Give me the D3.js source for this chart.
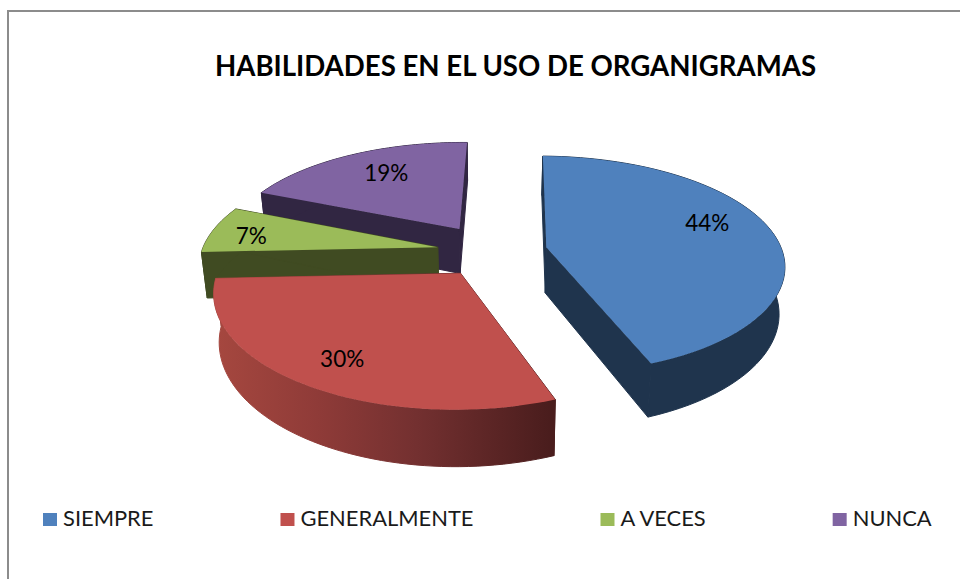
<!DOCTYPE html>
<html><head><meta charset="utf-8">
<script src="https://cdn.jsdelivr.net/npm/d3@7"></script>
<style>html,body{margin:0;padding:0;background:#fff}svg{display:block}text{font-family:Lato,"Open Sans",sans-serif}</style>
</head><body><svg id="c" width="960" height="579"></svg>
<script>
const categories = ["SIEMPRE","GENERALMENTE","A VECES","NUNCA"];
const values = [44,30,7,19];
const labels = ["44%","30%","7%","19%"];
const colors = ["#4f81bd","#c0504d","#9bbb59","#8064a2"];
const sideColors = ["#1f344d","#6f2f2e","#404b22","#312642"];
const titleText = "HABILIDADES EN EL USO DE ORGANIGRAMAS";

const svg=d3.select("#c");
const cx=492, cy=251.5, R=236, T=107, Thick=46, pY=0.16, pX=0.15, conv=0.02;
const explode=[0.235,0.235,0.235,0.26];
const rot=1*Math.PI/180;
const labelR=[0.76,0.79,0.82,0.72];
const labelAngle=[-9,-1,-2,3];

function proj(wx,wy,z){
  const dy=1-pY*wy, dx=1-pX*wy;
  return [cx+R*wx/dx*(1-conv*z), cy+T*wy/dy+Thick*z/dy];
}
const pie=d3.pie().sort(null).value(d=>d).startAngle(rot).endAngle(2*Math.PI+rot)(values);
const line=d3.line();
const defs=svg.append("defs");
const g=defs.append("linearGradient").attr("id","redWall").attr("gradientUnits","userSpaceOnUse")
  .attr("x1",218).attr("x2",550).attr("y1",0).attr("y2",0);
[[0,"#a5473f"],[0.3,"#8f3b38"],[0.6,"#733030"],[1,"#4a1d1d"]].forEach(s=>g.append("stop").attr("offset",s[0]).attr("stop-color",s[1]));

svg.append("path").attr("d","M8,579V11H960").attr("fill","none").attr("stroke","#8c8c8c").attr("stroke-width",2);

const drawOrder=[3,2,0,1];
drawOrder.forEach(i=>{
  const s=pie[i], mid=(s.startAngle+s.endAngle)/2;
  const ox=explode[i]*Math.sin(mid), oy=-explode[i]*Math.cos(mid);
  const angs=d3.range(0,61).map(k=>s.startAngle+(s.endAngle-s.startAngle)*k/60);
  const rim=z=>angs.map(a=>proj(ox+Math.sin(a),oy-Math.cos(a),z));
  const apex=z=>proj(ox,oy,z);
  const side=i===1?"url(#redWall)":sideColors[i];
  const gr=svg.append("g");
  const wall=pts=>gr.append("path").attr("d",line(pts)+"Z").attr("fill",side).attr("stroke",side).attr("stroke-width",1);
  const rt=rim(0), rb=rim(1);
  wall([apex(0),rt[0],rb[0],apex(1)]);
  wall([apex(0),rt[60],rb[60],apex(1)]);
  wall(rt.concat(rb.slice().reverse()));
  gr.append("path").attr("d",line([apex(0)].concat(rt))+"Z").attr("fill",colors[i]);
});
// data labels
pie.forEach((s,i)=>{
  const m=(s.startAngle+s.endAngle)/2, a=m+labelAngle[i]*Math.PI/180;
  const p=proj(explode[i]*Math.sin(m)+labelR[i]*Math.sin(a),-explode[i]*Math.cos(m)-labelR[i]*Math.cos(a),0);
  svg.append("text").attr("x",p[0]).attr("y",p[1]).attr("text-anchor","middle").attr("dominant-baseline","central")
    .attr("font-size",22.5).attr("fill","#000").text(labels[i]);
});
// title
svg.append("text").attr("x",515.5).attr("y",76).attr("text-anchor","middle").attr("font-size",27.6).attr("font-weight",700).attr("fill","#000").text(titleText);
// legend flow
let lx=43;
categories.forEach((c,i)=>{
  svg.append("rect").attr("x",lx).attr("y",513).attr("width",14).attr("height",13).attr("fill",colors[i]);
  const t=svg.append("text").attr("x",lx+20).attr("y",526).attr("font-size",21.9).attr("fill","#1a1a1a").text(c);
  lx+=20+t.node().getComputedTextLength()+127;
});
</script></body></html>
